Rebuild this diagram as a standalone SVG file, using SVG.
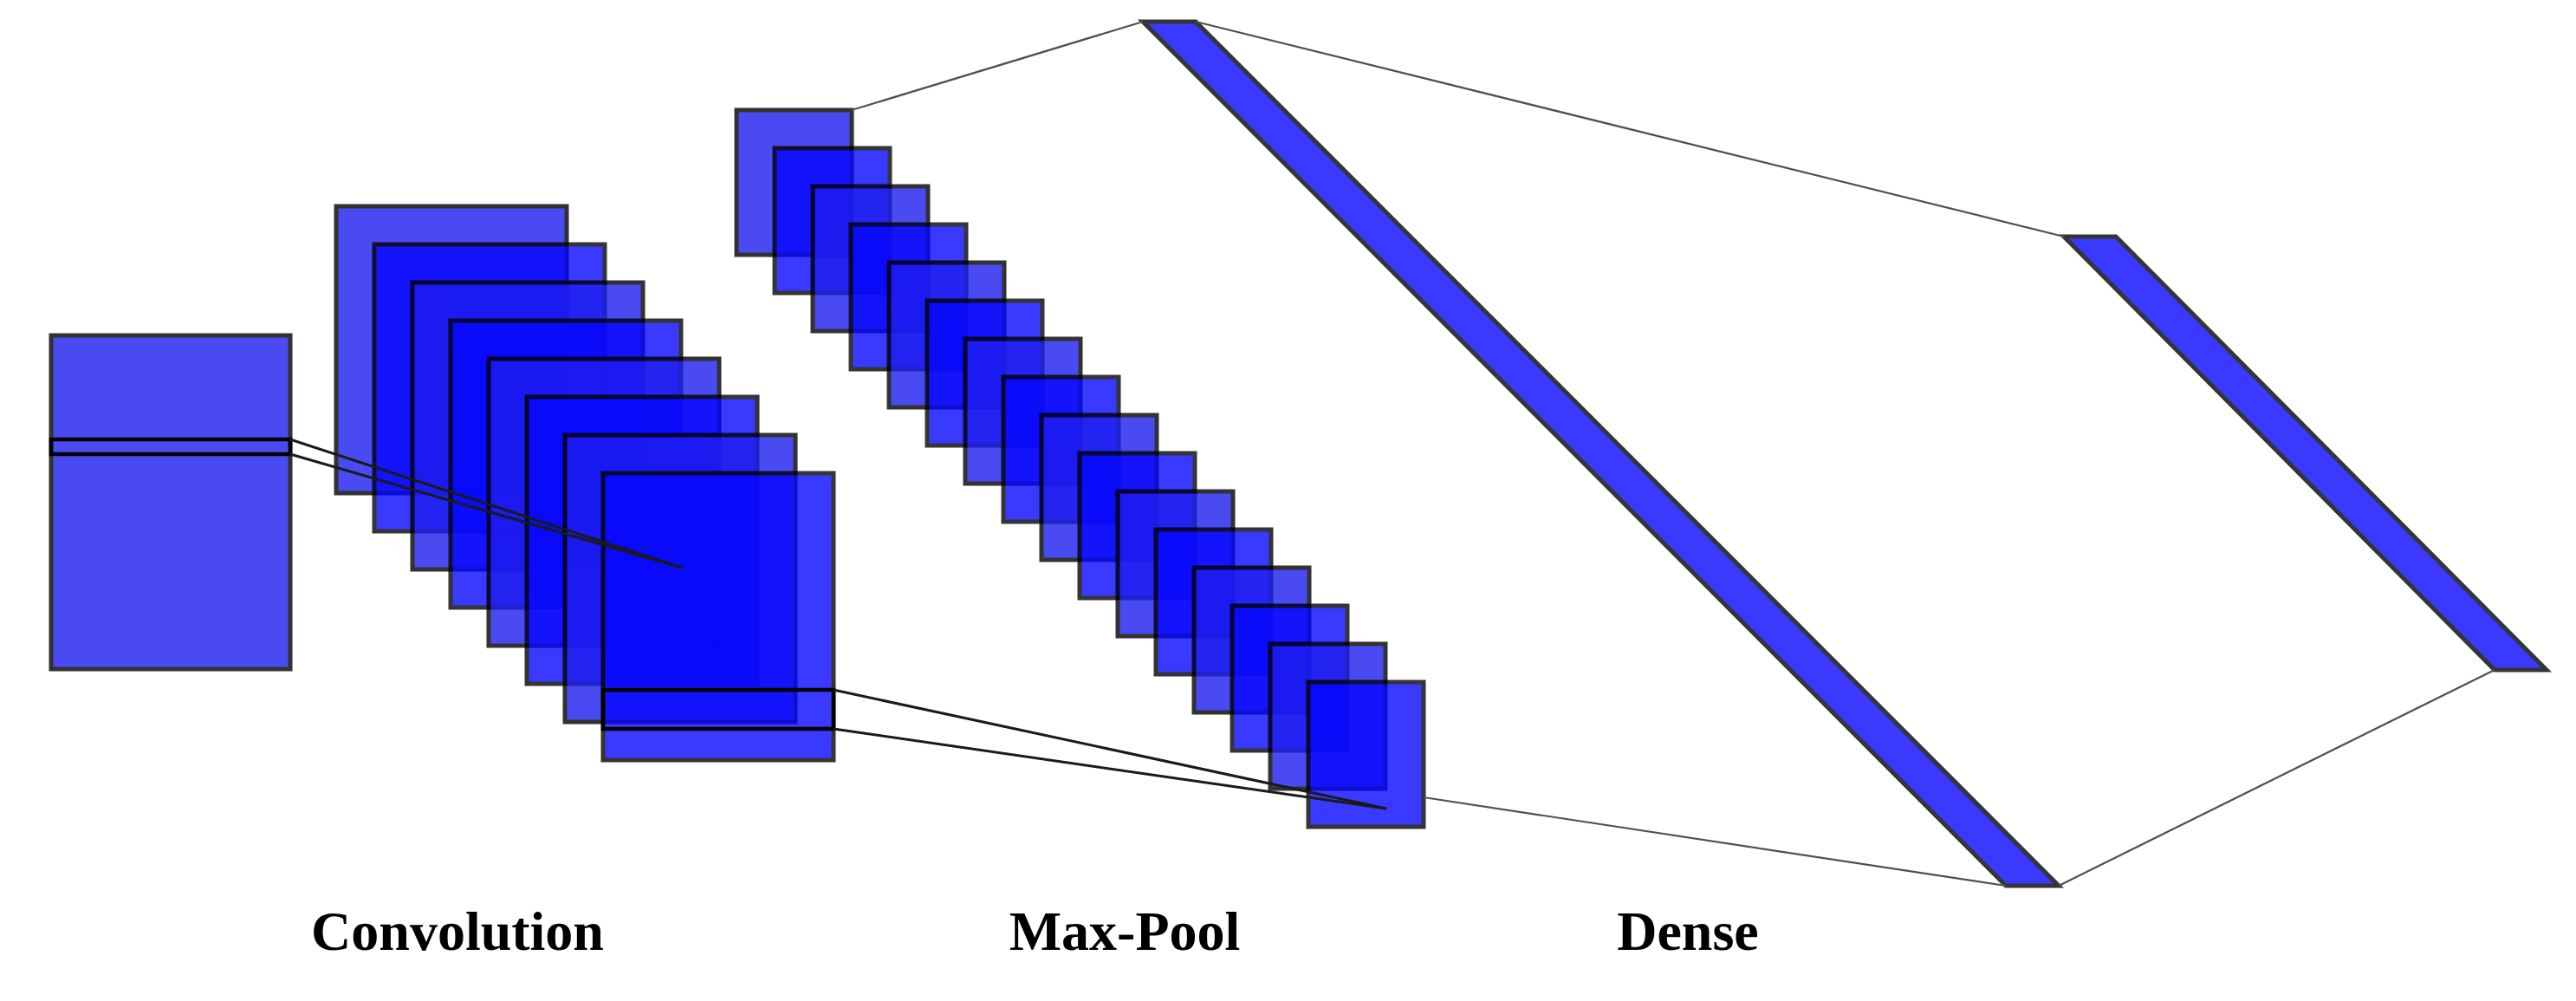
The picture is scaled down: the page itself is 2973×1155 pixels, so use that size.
<svg xmlns="http://www.w3.org/2000/svg" width="2973" height="1155" viewBox="0 0 2973 1155">
  <style>
    .odd { fill: rgb(30,30,239); stroke: #000; stroke-width: 5; opacity: 0.8; }
    .even { fill: rgb(5,5,255); stroke: #000; stroke-width: 5; opacity: 0.79; }
    .band { fill: none; stroke: #000; stroke-width: 4.5; }
    .focus { stroke: #1a1a1a; stroke-width: 3; fill: none; }
    .link { stroke: #505050; stroke-width: 2.2; fill: none; }
    .label { font-family: "Liberation Serif", "Times New Roman", serif; font-weight: bold; font-size: 64px; fill: #000; text-anchor: middle; }
  </style>
  <defs>
    <rect id="convMap" width="266" height="331"/>
    <rect id="poolMap" width="133" height="167"/>
  </defs>
  <rect width="2973" height="1155" fill="#fff"/>

  <g id="input">
    <rect class="odd" x="59" y="387" width="276" height="385"/>
    <rect class="band" x="59" y="507" width="276" height="17"/>
  </g>

  <g id="convolution">
    <use href="#convMap" class="odd" x="388" y="238"/>
    <use href="#convMap" class="even" x="432" y="282"/>
    <use href="#convMap" class="odd" x="476" y="326"/>
    <use href="#convMap" class="even" x="520" y="370"/>
    <use href="#convMap" class="odd" x="564" y="414"/>
    <use href="#convMap" class="even" x="608" y="458"/>
    <use href="#convMap" class="odd" x="652" y="502"/>
    <use href="#convMap" class="even" x="696" y="546"/>
    <rect class="band" x="696" y="796" width="266" height="45"/>
  </g>

  <g id="maxpool">
    <use href="#poolMap" class="odd" x="850" y="127"/>
    <use href="#poolMap" class="even" x="894" y="171"/>
    <use href="#poolMap" class="odd" x="938" y="215"/>
    <use href="#poolMap" class="even" x="982" y="259"/>
    <use href="#poolMap" class="odd" x="1026" y="303"/>
    <use href="#poolMap" class="even" x="1070" y="347"/>
    <use href="#poolMap" class="odd" x="1114" y="391"/>
    <use href="#poolMap" class="even" x="1158" y="435"/>
    <use href="#poolMap" class="odd" x="1202" y="479"/>
    <use href="#poolMap" class="even" x="1246" y="523"/>
    <use href="#poolMap" class="odd" x="1290" y="567"/>
    <use href="#poolMap" class="even" x="1334" y="611"/>
    <use href="#poolMap" class="odd" x="1378" y="655"/>
    <use href="#poolMap" class="even" x="1422" y="699"/>
    <use href="#poolMap" class="odd" x="1466" y="743"/>
    <use href="#poolMap" class="even" x="1510" y="787"/>
  </g>

  <g id="dense1">
    <polygon class="even" points="1319,25 1380,25 2376,1022 2315,1022"/>
  </g>

  <g id="dense2">
    <polygon class="even" points="2382,273 2442,273 2939,773 2879,773"/>
  </g>

  <g id="connectors">
    <line class="focus" x1="335" y1="507" x2="787" y2="655"/>
    <line class="focus" x1="335" y1="524" x2="787" y2="655"/>
    <line class="focus" x1="962" y1="796" x2="1600" y2="933"/>
    <line class="focus" x1="962" y1="841" x2="1600" y2="933"/>
    <line class="link" x1="983" y1="127" x2="1319" y2="25"/>
    <line class="link" x1="1643" y1="920" x2="2315" y2="1022"/>
    <line class="link" x1="1380" y1="25" x2="2382" y2="273"/>
    <line class="link" x1="2376" y1="1022" x2="2879" y2="773"/>
  </g>

  <g id="labels">
    <text class="label" x="528" y="1096">Convolution</text>
    <text class="label" x="1298" y="1096">Max-Pool</text>
    <text class="label" x="1948" y="1096">Dense</text>
  </g>
</svg>
